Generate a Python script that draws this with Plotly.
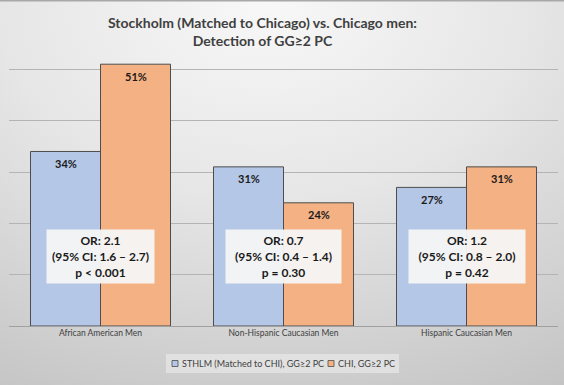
import base64
import plotly.graph_objects as go

categories = ["African American Men", "Non-Hispanic Caucasian Men", "Hispanic Caucasian Men"]
sthlm_values = [34, 31, 27]
chi_values = [51, 24, 31]
series_names = ["STHLM (Matched to CHI), GG≥2 PC", "CHI, GG≥2 PC"]
series_colors = ["#b4c7e7", "#f4b183"]
or_texts = [
    "OR: 2.1<br>(95% CI: 1.6 – 2.7)<br>p < 0.001",
    "OR: 0.7<br>(95% CI: 0.4 – 1.4)<br>p = 0.30",
    "OR: 1.2<br>(95% CI: 0.8 – 2.0)<br>p = 0.42",
]
title_text = "Stockholm (Matched to Chicago) vs. Chicago men:<br>Detection of GG≥2 PC"

W, H = 564, 385
ML, MR, MT, MB = 9, 6, 18, 59
PW, PH = W - ML - MR, H - MT - MB
FONT = "Lato"


def px_x(px):
    return (px - ML) / PW


def px_y(py):
    return 1 - (py - MT) / PH


svg = f'''<svg xmlns="http://www.w3.org/2000/svg" width="{W}" height="{H}" viewBox="0 0 {W} {H}" preserveAspectRatio="none">
<defs><radialGradient id="g" cx="0.47" cy="0.0" r="1.05" fx="0.47" fy="0.0" gradientTransform="translate(0.47,0) scale(1,1.1) translate(-0.47,0)">
<stop offset="0" stop-color="#f8f8f8"/><stop offset="0.45" stop-color="#e6e6e6"/><stop offset="1" stop-color="#c4c4c4"/></radialGradient></defs>
<rect x="0" y="0" width="{W}" height="{H}" fill="url(#g)"/>
<rect x="0" y="0" width="{W}" height="1.5" fill="#a8a8a8"/>
</svg>'''
uri = "data:image/svg+xml;base64," + base64.b64encode(svg.encode()).decode()

fig = go.Figure()
for name, vals, col in zip(series_names, [sthlm_values, chi_values], series_colors):
    fig.add_trace(go.Bar(
        x=categories, y=vals, name=name,
        marker=dict(color=col, line=dict(color="#4d4d4d", width=1)),
        showlegend=False, hoverinfo="skip",
    ))

# value labels just inside the top of each bar
for vals, shift in zip([sthlm_values, chi_values], [-35, 35]):
    for cat, v in zip(categories, vals):
        fig.add_annotation(
            x=cat, y=v, xref="x", yref="y", text=f"{v}%", showarrow=False,
            xshift=shift, yshift=-12, yanchor="middle",
            font=dict(family=FONT, size=11, color="#1a1a1a", weight="bold"),
        )

box_widths = [109, 117, 118]
for cat, txt, bw in zip(categories, or_texts, box_widths):
    fig.add_annotation(
        x=cat, y=13.5, xref="x", yref="y", text=txt, showarrow=False,
        font=dict(family=FONT, size=12, color="#1a1a1a", weight="bold"),
        bgcolor="rgba(245,245,245,0.95)", width=bw - 2, height=53,
        align="center", valign="middle", borderpad=0,
    )

fig.add_annotation(
    x=px_x(262), y=px_y(31), xref="paper", yref="paper",
    text=title_text, showarrow=False, xanchor="center", yanchor="middle",
    font=dict(family=FONT, size=14, color="#404040", weight="bold"),
)

# custom legend
fig.add_shape(type="rect", xref="paper", yref="paper",
              x0=px_x(166), x1=px_x(399), y0=px_y(373), y1=px_y(354),
              fillcolor="rgba(226,226,226,0.9)", line=dict(width=0), layer="below")
leg_x = [178, 334]
for name, col, lx in zip(series_names, series_colors, leg_x):
    fig.add_shape(type="rect", xref="paper", yref="paper",
                  x0=px_x(lx - 6), x1=px_x(lx), y0=px_y(366.5), y1=px_y(360.5),
                  fillcolor=col, line=dict(color="#4d4d4d", width=0.8))
    fig.add_annotation(x=px_x(lx + 1.5), y=px_y(363.5), xref="paper", yref="paper",
                       text=name, showarrow=False, xanchor="left", yanchor="middle",
                       font=dict(family=FONT, size=9, color="#404040"))

fig.add_layout_image(dict(
    source=uri, xref="paper", yref="paper",
    x=-ML / PW, y=1 + MT / PH, sizex=W / PW, sizey=H / PH,
    xanchor="left", yanchor="top", sizing="stretch", layer="below",
))

fig.update_layout(
    width=W, height=H,
    margin=dict(l=ML, r=MR, t=MT, b=MB, pad=0, autoexpand=False),
    paper_bgcolor="#dcdcdc", plot_bgcolor="rgba(0,0,0,0)",
    barmode="group", bargap=0.235, bargroupgap=0,
    font=dict(family=FONT, color="#404040"),
    showlegend=False, hovermode=False,
    xaxis=dict(
        showgrid=False, zeroline=False, showline=False, ticks="",
        tickfont=dict(family=FONT, size=8.5, color="#404040"),
    ),
    yaxis=dict(
        range=[0, 60], dtick=10, showgrid=True, gridcolor="#b4b4b4", gridwidth=1,
        showticklabels=False, zeroline=True, zerolinecolor="#a0a0a0", zerolinewidth=1,
        showline=False, ticks="",
    ),
)

fig.write_html(
    "out.html",
    config={"displayModeBar": False, "staticPlot": True},
    post_script="document.body.style.margin='0';document.body.style.overflow='hidden';",
)
